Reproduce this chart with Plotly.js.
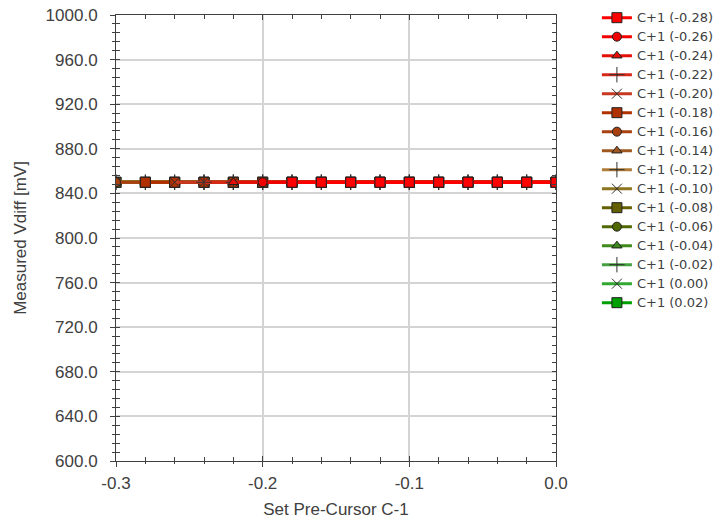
<!DOCTYPE html>
<html>
<head>
<meta charset="utf-8">
<script src="https://cdn.plot.ly/plotly-3.0.1.min.js"></script>
<style>
html,body{margin:0;padding:0;background:#fff;}
#chart{width:720px;height:523px;}
text.legendtext{font-family:"DejaVu Sans",sans-serif !important;font-size:13px !important;}
</style>
</head>
<body>
<div id="chart"></div>
<script>
// Set Pre-Cursor C-1 values
const xValues = [-0.30, -0.28, -0.26, -0.24, -0.22, -0.20, -0.18, -0.16, -0.14, -0.12, -0.10, -0.08, -0.06, -0.04, -0.02, 0.00];
// X tick labels
const xTickVals = [-0.3, -0.2, -0.1, 0.0];
const xTickText = ["-0.3", "-0.2", "-0.1", "0.0"];

// Series names (C+1 settings)
const seriesNames = ["C+1 (-0.28)", "C+1 (-0.26)", "C+1 (-0.24)", "C+1 (-0.22)", "C+1 (-0.20)", "C+1 (-0.18)", "C+1 (-0.16)", "C+1 (-0.14)", "C+1 (-0.12)", "C+1 (-0.10)", "C+1 (-0.08)", "C+1 (-0.06)", "C+1 (-0.04)", "C+1 (-0.02)", "C+1 (0.00)", "C+1 (0.02)"];

// Measured Vdiff [mV] per series (null = not measured)
const yC1_m028 = [null, null, null, null, null, null, 850, 850, 850, 850, 850, 850, 850, 850, 850, 850];
const yC1_m026 = [null, null, null, null, null, 850, 850, 850, 850, 850, 850, 850, 850, 850, 850, 850];
const yC1_m024 = [null, null, null, null, 850, 850, 850, 850, 850, 850, 850, 850, 850, 850, 850, 850];
const yC1_m022 = [null, null, null, 850, 850, 850, 850, 850, 850, 850, 850, 850, 850, 850, 850, 850];
const yC1_m020 = [null, null, 850, 850, 850, 850, 850, 850, 850, 850, 850, 850, 850, 850, 850, 850];
const yC1_m018 = [null, 850, 850, 850, 850, 850, 850, 850, 850, 850, 850, 850, 850, 850, 850, 850];
const yC1_m016 = [850, 850, 850, 850, 850, 850, 850, 850, 850, 850, 850, 850, 850, 850, 850, 850];
const yC1_m014 = [850, 850, 850, 850, 850, 850, 850, 850, 850, 850, 850, 850, 850, 850, 850, 850];
const yC1_m012 = [850, 850, 850, 850, 850, 850, 850, 850, 850, 850, 850, 850, 850, 850, 850, 850];
const yC1_m010 = [850, 850, 850, 850, 850, 850, 850, 850, 850, 850, 850, 850, 850, 850, 850, 850];
const yC1_m008 = [850, 850, 850, 850, 850, 850, 850, 850, 850, 850, 850, 850, 850, 850, 850, 850];
const yC1_m006 = [850, 850, 850, 850, 850, 850, 850, 850, 850, 850, 850, 850, 850, 850, 850, 850];
const yC1_m004 = [850, 850, 850, 850, 850, 850, 850, 850, 850, 850, 850, 850, 850, 850, 850, 850];
const yC1_m002 = [850, 850, 850, 850, 850, 850, 850, 850, 850, 850, 850, 850, 850, 850, 850, 850];
const yC1_p000 = [850, 850, 850, 850, 850, 850, 850, 850, 850, 850, 850, 850, 850, 850, 850, 850];
const yC1_p002 = [850, 850, 850, 850, 850, 850, 850, 850, 850, 850, 850, 850, 850, 850, 850, 850];

const seriesY = [yC1_m028, yC1_m026, yC1_m024, yC1_m022, yC1_m020, yC1_m018, yC1_m016, yC1_m014,
                 yC1_m012, yC1_m010, yC1_m008, yC1_m006, yC1_m004, yC1_m002, yC1_p000, yC1_p002];

const colors = ["#ff0000", "#f20000", "#e41008", "#d82818", "#c83820", "#b03000", "#a84010", "#a05820",
                "#b07c38", "#8c7420", "#646000", "#506800", "#3f8a1c", "#44a040", "#30a830", "#00a000"];
const symbols = ["square", "circle", "triangle-up", "cross-thin", "x-thin"];
const sizes = [10, 9, 9, 11, 10];

const traces = [];
for (let i = seriesNames.length - 1; i >= 0; i--) {
  const s = symbols[i % 5];
  const thin = s.indexOf("thin") >= 0;
  traces.push({
    type: "scatter",
    mode: "lines+markers",
    name: seriesNames[i],
    x: xValues,
    y: seriesY[i],
    line: {color: colors[i], width: 3},
    marker: {
      symbol: s,
      size: sizes[i % 5],
      color: colors[i],
      line: {color: thin ? "#303030" : "#202020", width: 1}
    }
  });
}
// invisible trace on overlay axes (outward tick marks)
traces.push({type: "scatter", x: [-0.3], y: [600], xaxis: "x2", yaxis: "y2", mode: "markers",
  marker: {opacity: 0}, showlegend: false, hoverinfo: "skip"});

const fam = "Liberation Sans, Arial, sans-serif";
const tickFont = {family: fam, size: 17, color: "#404040"};

const layout = {
  width: 720, height: 523,
  margin: {l: 116, r: 164, t: 15, b: 62, autoexpand: false},
  paper_bgcolor: "#ffffff",
  plot_bgcolor: "#ffffff",
  showlegend: true,
  legend: {
    x: 1.093, y: 1.0265, xanchor: "left", yanchor: "top",
    traceorder: "reversed",
    maxheight: 1,
    font: {family: fam, size: 11.8, color: "#404040"},
    bgcolor: "rgba(0,0,0,0)",
    tracegroupgap: 0
  },
  xaxis: {
    range: [-0.3, 0.0], tickmode: "array", tickvals: xTickVals, ticktext: xTickText,
    showgrid: true, gridcolor: "#d4d4d4", gridwidth: 2, zeroline: false,
    showline: true, linecolor: "#404040", linewidth: 1, mirror: "ticks",
    ticks: "inside", ticklen: 5, tickcolor: "#404040",
    minor: {tickmode: "linear", tick0: 0, dtick: 0.02, ticks: "inside", ticklen: 4, tickcolor: "#404040", showgrid: false},
    tickfont: tickFont, ticklabelstandoff: 7,
    automargin: false,
    title: {text: "Set Pre-Cursor C-1", font: {family: fam, size: 17, color: "#404040"}, standoff: 10}
  },
  yaxis: {
    range: [600, 1000], dtick: 40, tick0: 600, tickformat: ".1f",
    showgrid: true, gridcolor: "#d4d4d4", gridwidth: 2, zeroline: false,
    showline: true, linecolor: "#404040", linewidth: 1, mirror: "ticks",
    ticks: "inside", ticklen: 4, tickcolor: "#404040",
    minor: {dtick: 8, ticks: "inside", ticklen: 4, tickcolor: "#404040", showgrid: false},
    tickfont: tickFont, ticklabelstandoff: 14,
    automargin: false,
    title: {text: "Measured Vdiff [mV]", font: {family: fam, size: 17, color: "#404040"}, standoff: 14}
  },
  xaxis2: {
    overlaying: "x", side: "bottom", range: [-0.3, 0.0], dtick: 0.1, tick0: 0,
    showticklabels: false, showgrid: false, zeroline: false, showline: false,
    ticks: "outside", ticklen: 5, tickcolor: "#404040",
    minor: {dtick: 0.02, ticks: "outside", ticklen: 2, tickcolor: "#404040"}
  },
  yaxis2: {
    overlaying: "y", side: "left", range: [600, 1000], dtick: 40, tick0: 600,
    showticklabels: false, showgrid: false, zeroline: false, showline: false,
    ticks: "outside", ticklen: 5, tickcolor: "#404040",
    minor: {dtick: 8, ticks: "outside", ticklen: 3, tickcolor: "#404040"}
  }
};

Plotly.newPlot("chart", traces, layout, {staticPlot: true, displayModeBar: false});
</script>
</body>
</html>
